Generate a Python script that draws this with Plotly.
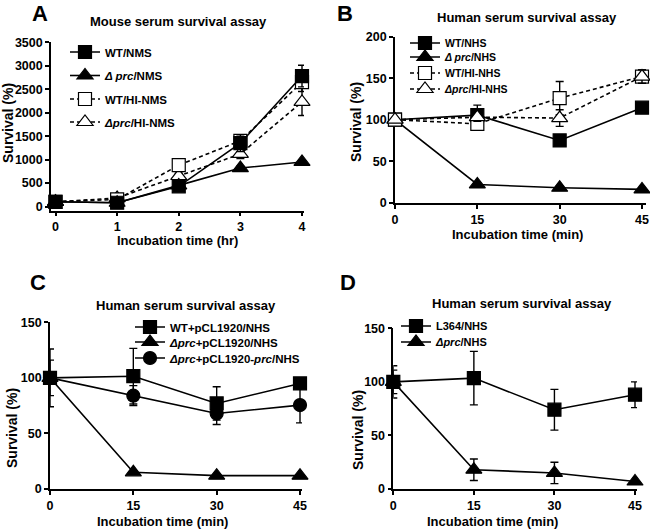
import plotly.graph_objects as go

# ---------------- data ----------------
time_hr = [0, 1, 2, 3, 4]
a_wt_nms = [100, 80, 430, 1350, 2780]
a_wt_nms_err = [20, 30, 40, 180, 230]
a_dprc_nms = [100, 80, 450, 820, 950]
a_dprc_nms_err = [10, 20, 30, 40, 50]
a_wt_hi = [100, 150, 880, 1400, 2650]
a_wt_hi_err = [20, 60, 60, 120, 200]
a_dprc_hi = [100, 180, 650, 1120, 2230]
a_dprc_hi_err = [20, 80, 60, 100, 290]

time_min = [0, 15, 30, 45]
b_wt = [100, 105.5, 75, 114.5]
b_wt_err = [0, 12, 4, 3]
b_dprc = [100, 22, 18, 16]
b_dprc_err = [0, 2, 2, 2]
b_wt_hi = [100, 95, 126, 152]
b_wt_hi_err = [0, 4, 20, 8]
b_dprc_hi = [100, 103, 102, 152]
b_dprc_hi_err = [0, 5, 10, 8]

c_wt = [100, 101.5, 77, 95]
c_wt_err = [26, 25, 15, 5]
c_dprc = [100, 15, 12, 12]
c_dprc_err = [0, 1, 1, 1]
c_comp = [100, 84, 68, 75.5]
c_comp_err = [16, 9, 10, 16]

d_wt = [100, 103.5, 74, 88]
d_wt_err = [15, 25, 19, 12]
d_dprc = [100, 18, 15, 7]
d_dprc_err = [11, 10, 10, 1]

ticks_a_x = [0, 1, 2, 3, 4]
ticks_a_y = [0, 500, 1000, 1500, 2000, 2500, 3000, 3500]
ticks_b_y = [0, 50, 100, 150, 200]
ticks_min = [0, 15, 30, 45]
ticks_cd_y = [0, 50, 100, 150]

# ---------------- layout helpers ----------------
W, H = 650, 529
FONT = "Liberation Sans, Arial, Helvetica, sans-serif"


def px(x):
    return x / W


def py(y):
    return 1 - y / H


fig = go.Figure()


def add_series(x, y, err, symbol, filled, dash, name, xa, ya, legend, size=13):
    fig.add_trace(go.Scatter(
        x=x, y=y, name=name, mode="lines+markers",
        xaxis=xa, yaxis=ya, legend=legend, cliponaxis=False,
        line=dict(color="black", width=1.6, dash=dash),
        marker=dict(symbol=symbol, size=size,
                    color="black" if filled else "white",
                    line=dict(color="black", width=1.2)),
        error_y=dict(type="data", array=err, visible=True, color="black",
                     thickness=1.4, width=4),
    ))


DASH = "4px,3px"
# Panel A (open first, filled on top)
add_series(time_hr, a_dprc_hi, a_dprc_hi_err, "triangle-up", False, DASH,
           "<i>Δprc</i>/HI-NMS", "x", "y", "legend4", 14)
add_series(time_hr, a_wt_hi, a_wt_hi_err, "square", False, DASH,
           "WT/HI-NMS", "x", "y", "legend3")
add_series(time_hr, a_dprc_nms, a_dprc_nms_err, "triangle-up", True, "solid",
           "<i>Δ prc</i>/NMS", "x", "y", "legend2", 14)
add_series(time_hr, a_wt_nms, a_wt_nms_err, "square", True, "solid",
           "WT/NMS", "x", "y", "legend")

# Panel B (filled first, open on top)
add_series(time_min, b_wt, b_wt_err, "square", True, "solid",
           "WT/NHS", "x2", "y2", "legend5")
add_series(time_min, b_dprc, b_dprc_err, "triangle-up", True, "solid",
           "<i>Δ prc</i>/NHS", "x2", "y2", "legend6", 14)
add_series(time_min, b_wt_hi, b_wt_hi_err, "square", False, DASH,
           "WT/HI-NHS", "x2", "y2", "legend7")
add_series(time_min, b_dprc_hi, b_dprc_hi_err, "triangle-up", False, DASH,
           "<i>Δprc</i>/HI-NHS", "x2", "y2", "legend8", 14)

# Panel C
add_series(time_min, c_comp, c_comp_err, "circle", True, "solid",
           "<i>Δprc</i>+pCL1920-<i>prc</i>/NHS", "x3", "y3", "legend11", 13)
add_series(time_min, c_dprc, c_dprc_err, "triangle-up", True, "solid",
           "<i>Δprc</i>+pCL1920/NHS", "x3", "y3", "legend10", 14)
add_series(time_min, c_wt, c_wt_err, "square", True, "solid",
           "WT+pCL1920/NHS", "x3", "y3", "legend9")

# Panel D
add_series(time_min, d_dprc, d_dprc_err, "triangle-up", True, "solid",
           "<i>Δprc</i>/NHS", "x4", "y4", "legend13", 14)
add_series(time_min, d_wt, d_wt_err, "square", True, "solid",
           "L364/NHS", "x4", "y4", "legend12")

axis_common = dict(
    showline=True, linecolor="black", linewidth=1.6, mirror=False,
    ticks="outside", ticklen=4, tickwidth=1.5, tickcolor="black",
    showgrid=False, zeroline=False, layer="below traces",
    tickfont=dict(family=FONT, size=12.5, color="black", weight="bold"),
)

# x: (domain px lo, hi), px of first value, px span, value span
# y: (domain bottom px, top px), px of value 0, top value
panels = {
    "1": ((51, 304), 55.5, 246.5, 4, (210.5, 42.3), 206.5, 3500, ticks_a_x, ticks_a_y),
    "2": ((395, 646), 395, 247, 45, (202.7, 36.7), 202.7, 200, ticks_min, ticks_b_y),
    "3": ((50, 302), 50, 250, 45, (489, 322.3), 489, 150, ticks_min, ticks_cd_y),
    "4": ((393.3, 637), 393.3, 241.7, 45, (489, 328.3), 489, 150, ticks_min, ticks_cd_y),
}

layout_axes = {}
for k, (xd, x0, span_px, span_v, yd, y0px, ytop, xt, yt) in panels.items():
    scale = span_px / span_v
    xr = [(xd[0] - x0) / scale, (xd[1] - x0) / scale]
    yscale = (y0px - yd[1]) / ytop
    yr = [-(yd[0] - y0px) / yscale, ytop]
    suffix = "" if k == "1" else k
    anchor_x = "y" if k == "1" else "y" + k
    anchor_y = "x" if k == "1" else "x" + k
    layout_axes["xaxis" + suffix] = dict(
        axis_common, domain=[px(xd[0]), px(xd[1])], range=xr,
        tickvals=xt, anchor=anchor_x)
    layout_axes["yaxis" + suffix] = dict(
        axis_common, domain=[py(yd[0]), py(yd[1])], range=yr,
        tickvals=yt, anchor=anchor_y)

fig.update_layout(**layout_axes)

legend_spots = [
    ("legend", 87, 52, 11.5), ("legend2", 87, 75.5, 11.5),
    ("legend3", 87, 99, 11.5), ("legend4", 87, 122, 11.5),
    ("legend5", 427, 43, 10.5), ("legend6", 427, 57, 10.5),
    ("legend7", 427, 73, 10.5), ("legend8", 427, 89, 10.5),
    ("legend9", 152, 327, 11.5), ("legend10", 152, 342, 11.5),
    ("legend11", 152, 358, 11.5),
    ("legend12", 418, 326, 11), ("legend13", 418, 342, 11),
]
leg_layout = {}
for key, mx, my, fs in legend_spots:
    leg_layout[key] = dict(
        x=px(mx - 22), y=py(my), xanchor="left", yanchor="middle",
        xref="paper", yref="paper", bgcolor="rgba(0,0,0,0)", borderwidth=0,
        font=dict(family=FONT, size=fs, color="black", weight="bold"),
        itemwidth=30, tracegroupgap=0,
    )
fig.update_layout(**leg_layout)

annotations = []


def text(t, x, y, size, angle=0):
    annotations.append(dict(
        text=t, x=px(x), y=py(y), xref="paper", yref="paper",
        xanchor="center", yanchor="middle", showarrow=False, textangle=angle,
        font=dict(family=FONT, size=size, color="black", weight="bold")))


text("A", 40, 13, 22)
text("B", 345, 13, 22)
text("C", 38, 282, 22)
text("D", 348, 282, 22)
text("Mouse serum survival assay", 178, 21, 13)
text("Human serum survival assay", 527, 18, 13)
text("Human serum survival assay", 186, 305, 13)
text("Human serum survival assay", 522, 303, 13)
text("Incubation time (hr)", 177, 240, 13)
text("Incubation time (min)", 517, 234, 13)
text("Incubation time (min)", 163, 521, 13)
text("Incubation time (min)", 492, 521, 13)
text("Survival (%)", 8, 123, 14, -90)
text("Survival (%)", 356, 122, 14, -90)
text("Survival (%)", 12, 428, 14, -90)
text("Survival (%)", 358, 430, 14, -90)

fig.update_layout(
    annotations=annotations,
    width=W, height=H,
    margin=dict(l=0, r=0, t=0, b=0, pad=0, autoexpand=False),
    paper_bgcolor="white", plot_bgcolor="white",
    showlegend=True,
    font=dict(family=FONT, color="black"),
)

fig.write_html(
    "out.html",
    config={"displayModeBar": False},
    post_script="document.body.style.margin='0';"
                "document.body.style.overflow='hidden';",
)
